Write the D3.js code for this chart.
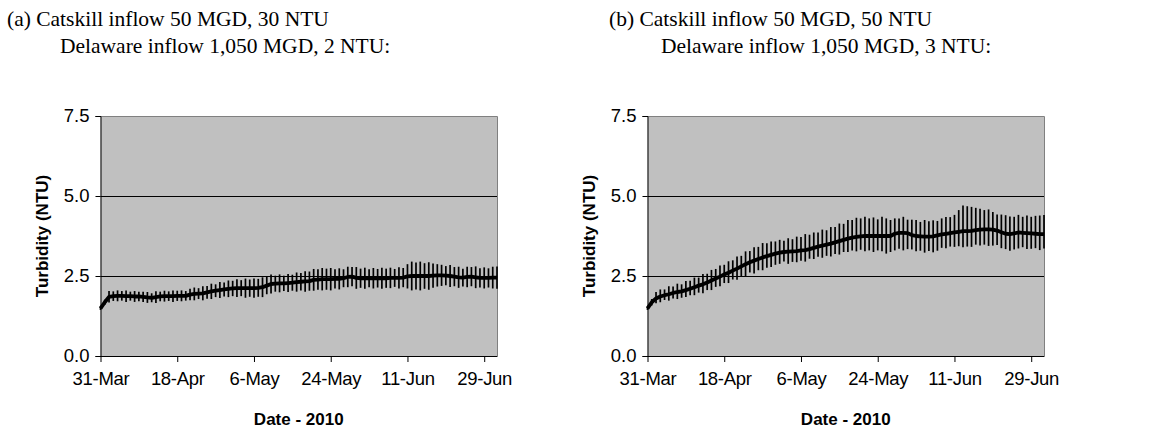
<!DOCTYPE html>
<html>
<head>
<meta charset="utf-8">
<script src="https://cdn.jsdelivr.net/npm/d3@7"></script>
<style>
  html, body { margin: 0; padding: 0; background: #fff; }
  svg { display: block; }
</style>
</head>
<body>
<svg id="chart" width="1154" height="434"></svg>
<script>
// ---------------- DATA ----------------
const startDate = "2010-03-31";
const endDate = "2010-07-02";
const tickLabels = ["31-Mar", "18-Apr", "6-May", "24-May", "11-Jun", "29-Jun"];
const yTicks = [0, 2.5, 5.0, 7.5];

const titleA = ["(a) Catskill inflow 50 MGD, 30 NTU", "Delaware inflow 1,050 MGD, 2 NTU:"];
const titleB = ["(b) Catskill inflow 50 MGD, 50 NTU", "Delaware inflow 1,050 MGD, 3 NTU:"];
const yTitle = "Turbidity (NTU)";
const xTitle = "Date - 2010";

// Chart (a): daily mean turbidity, day 0 = 31-Mar
const meanA = [1.49,1.68,1.85,1.87,1.88,1.88,1.87,1.87,1.86,1.86,1.85,
  1.83,1.82,1.84,1.86,1.87,1.87,1.87,1.88,1.88,1.88,
  1.92,1.94,1.95,1.96,1.99,2.02,2.04,2.06,2.08,
  2.10,2.11,2.12,2.12,2.12,2.12,2.12,2.13,2.15,
  2.20,2.25,2.26,2.27,2.27,2.28,2.29,
  2.31,2.32,2.33,2.34,
  2.38,2.39,2.40,2.40,2.40,2.41,2.41,2.43,
  2.47,2.48,
  2.44,2.43,2.43,2.43,2.43,2.43,2.43,2.43,2.44,2.44,2.44,2.45,
  2.49,2.50,2.50,2.50,2.50,2.50,2.51,2.52,2.52,
  2.51,2.50,2.48,2.46,
  2.45,2.47,2.48,2.46,2.44,2.44,2.44,2.45,2.45];
const errA = [0.05,0.08,
  0.18,0.15,0.17,0.15,0.18,0.14,0.17,0.15,0.16,
  0.17,0.14,0.18,0.15,0.17,0.15,0.18,0.16,0.17,0.15,
  0.18,0.20,0.17,0.22,0.20,0.24,0.20,0.25,0.22,0.26,
  0.24,0.28,0.25,0.30,0.27,0.30,0.28,0.31,0.27,0.30,
  0.25,0.28,0.24,0.28,0.25,0.30,0.27,0.32,0.30,0.34,
  0.32,0.35,0.33,0.35,0.30,0.33,0.28,0.32,0.30,0.34,
  0.30,0.33,0.28,0.32,0.29,0.33,0.30,0.32,0.28,0.33,
  0.30,0.38,0.45,0.42,0.45,0.40,0.43,0.38,0.35,0.33,
  0.30,0.34,0.30,0.33,0.28,0.32,0.30,0.34,0.30,0.33,0.30,0.34,0.35];

// Chart (b): daily mean turbidity, day 0 = 31-Mar
const meanB = [1.49,1.68,1.80,1.86,1.90,1.93,1.97,2.00,2.02,2.06,2.10,
  2.15,2.20,2.24,2.30,2.36,2.42,2.48,2.55,2.60,2.67,
  2.73,2.80,2.87,2.93,2.98,3.03,3.08,3.12,3.16,3.20,
  3.23,3.25,3.26,3.27,3.28,3.30,3.31,3.34,3.38,3.42,
  3.45,3.48,3.51,3.55,3.59,3.63,3.67,3.70,3.72,3.74,
  3.75,3.75,3.75,3.75,3.75,3.75,3.75,
  3.82,3.85,3.85,3.84,
  3.78,3.75,3.74,3.73,3.73,3.74,3.77,
  3.80,3.82,3.84,
  3.86,3.88,3.90,3.90,3.91,
  3.93,3.95,3.96,3.96,3.95,
  3.92,3.87,3.82,
  3.81,3.83,3.86,
  3.85,3.84,3.83,3.82,3.81,3.81];
const errUpB = [0.05,0.10,
  0.20,0.22,0.18,0.25,0.20,0.26,0.22,0.28,0.25,
  0.30,0.25,0.32,0.27,0.33,0.30,0.35,0.30,0.36,0.32,
  0.38,0.33,0.40,0.35,0.42,0.38,0.45,0.40,0.42,0.38,
  0.40,0.35,0.42,0.38,0.45,0.42,0.50,0.45,0.48,0.44,
  0.50,0.45,0.52,0.48,0.55,0.50,0.58,0.55,0.60,0.56,
  0.60,0.55,0.58,0.52,0.60,0.55,0.50,0.48,0.45,0.50,
  0.42,0.48,0.50,0.45,0.52,0.48,0.50,0.45,0.50,0.52,
  0.50,0.55,0.68,0.80,0.78,0.75,0.70,0.65,0.60,0.62,
  0.55,0.50,0.55,0.58,0.55,0.52,0.55,0.50,0.55,0.52,0.56,0.58,0.60];
const errDnB = [0.05,0.10,
  0.15,0.18,0.15,0.20,0.17,0.22,0.20,0.22,0.20,
  0.25,0.22,0.28,0.24,0.30,0.26,0.30,0.27,0.32,0.28,
  0.35,0.30,0.38,0.32,0.40,0.35,0.40,0.36,0.38,0.35,
  0.35,0.30,0.38,0.33,0.35,0.32,0.36,0.30,0.35,0.32,
  0.38,0.35,0.40,0.36,0.42,0.38,0.42,0.40,0.45,0.42,
  0.48,0.45,0.50,0.45,0.48,0.55,0.50,0.52,0.50,0.55,
  0.50,0.45,0.48,0.45,0.50,0.45,0.50,0.48,0.42,0.45,
  0.42,0.45,0.45,0.50,0.48,0.50,0.45,0.50,0.48,0.52,
  0.50,0.45,0.50,0.48,0.52,0.50,0.50,0.45,0.50,0.48,0.45,0.50,0.45];

// ---------------- DRAW ----------------
const svg = d3.select("#chart");
const parse = d3.utcParse("%Y-%m-%d");
const t0 = parse(startDate), t1 = parse(endDate);
const tickDates = tickLabels.map((_, i) => d3.utcDay.offset(t0, i * 18));
const fmt = d3.utcFormat("%-d-%b");
const sans = "Arial, 'Liberation Sans', sans-serif";

function drawPanel(cfg) {
  const { left, right, top, bottom, mean, up, dn, title, titleX, titleX2, yTitleX } = cfg;
  const x = d3.scaleUtc().domain([t0, t1]).range([left, right]);
  const y = d3.scaleLinear().domain([0, 7.5]).range([bottom, top]);
  const g = svg.append("g");

  // plot background
  g.append("rect").attr("x", left).attr("y", top)
    .attr("width", right - left).attr("height", bottom - top)
    .attr("fill", "#c0c0c0");

  // gridlines
  g.selectAll("line.grid").data([2.5, 5.0]).join("line")
    .attr("x1", left).attr("x2", right)
    .attr("y1", d => Math.round(y(d)) + 0.5).attr("y2", d => Math.round(y(d)) + 0.5)
    .attr("stroke", "#000").attr("stroke-width", 1);

  // top and right border (gray)
  g.append("path")
    .attr("d", `M${left},${top + 0.5}H${right + 0.5}V${bottom}`)
    .attr("fill", "none").attr("stroke", "#808080").attr("stroke-width", 1);

  const data = mean.map((m, i) => ({ date: d3.utcDay.offset(t0, i), m, u: up[i], d: dn[i] }));

  // error bars
  g.selectAll("line.err").data(data).join("line")
    .attr("x1", d => x(d.date)).attr("x2", d => x(d.date))
    .attr("y1", d => y(d.m + d.u)).attr("y2", d => y(d.m - d.d))
    .attr("stroke", "#000").attr("stroke-width", 1.7);

  // mean line
  g.append("path").datum(data)
    .attr("d", d3.line().x(d => x(d.date)).y(d => y(d.m)))
    .attr("fill", "none").attr("stroke", "#000")
    .attr("stroke-width", 3.8).attr("stroke-linejoin", "round");

  // y axis
  const yAxis = d3.axisLeft(y).tickValues(yTicks).tickFormat(d3.format(".1f"))
    .tickSize(5).tickPadding(6);
  const ya = g.append("g").attr("transform", `translate(${left},0)`).call(yAxis);
  ya.select(".domain").attr("stroke", "#000");
  ya.selectAll(".tick line").attr("stroke", "#000");
  ya.selectAll("text").attr("font-family", sans)
    .attr("font-size", 18.5).attr("fill", "#000");

  // x axis
  const xAxis = d3.axisBottom(x).tickValues(tickDates).tickFormat(fmt)
    .tickSize(6).tickSizeOuter(0).tickPadding(10);
  const xa = g.append("g").attr("transform", `translate(0,${bottom})`).call(xAxis);
  xa.select(".domain").attr("stroke", "#000");
  xa.selectAll(".tick line").attr("stroke", "#000");
  xa.selectAll("text").attr("font-family", sans)
    .attr("font-size", 18.5).attr("fill", "#000").attr("letter-spacing", "-0.3px");

  // axis titles
  g.append("text")
    .attr("transform", `translate(${yTitleX},${(top + bottom) / 2}) rotate(-90)`)
    .attr("text-anchor", "middle")
    .attr("font-family", sans)
    .attr("font-weight", "bold").attr("font-size", 17).text(yTitle);
  g.append("text")
    .attr("x", (left + right) / 2).attr("y", 425)
    .attr("text-anchor", "middle")
    .attr("font-family", sans)
    .attr("font-weight", "bold").attr("font-size", 17).text(xTitle);

  // panel title
  const tf = "'Times New Roman', 'Liberation Serif', serif";
  g.append("text").attr("x", titleX).attr("y", 26)
    .attr("font-family", tf).attr("font-size", 21.5).text(title[0]);
  g.append("text").attr("x", titleX2).attr("y", 53)
    .attr("font-family", tf).attr("font-size", 21.5).text(title[1]);
}

drawPanel({ left: 100.5, right: 497, top: 116, bottom: 356,
  mean: meanA, up: errA, dn: errA, title: titleA, titleX: 7, titleX2: 60, yTitleX: 48 });
drawPanel({ left: 647.5, right: 1044, top: 116, bottom: 356,
  mean: meanB, up: errUpB, dn: errDnB, title: titleB, titleX: 609, titleX2: 661, yTitleX: 595 });
</script>
</body>
</html>
